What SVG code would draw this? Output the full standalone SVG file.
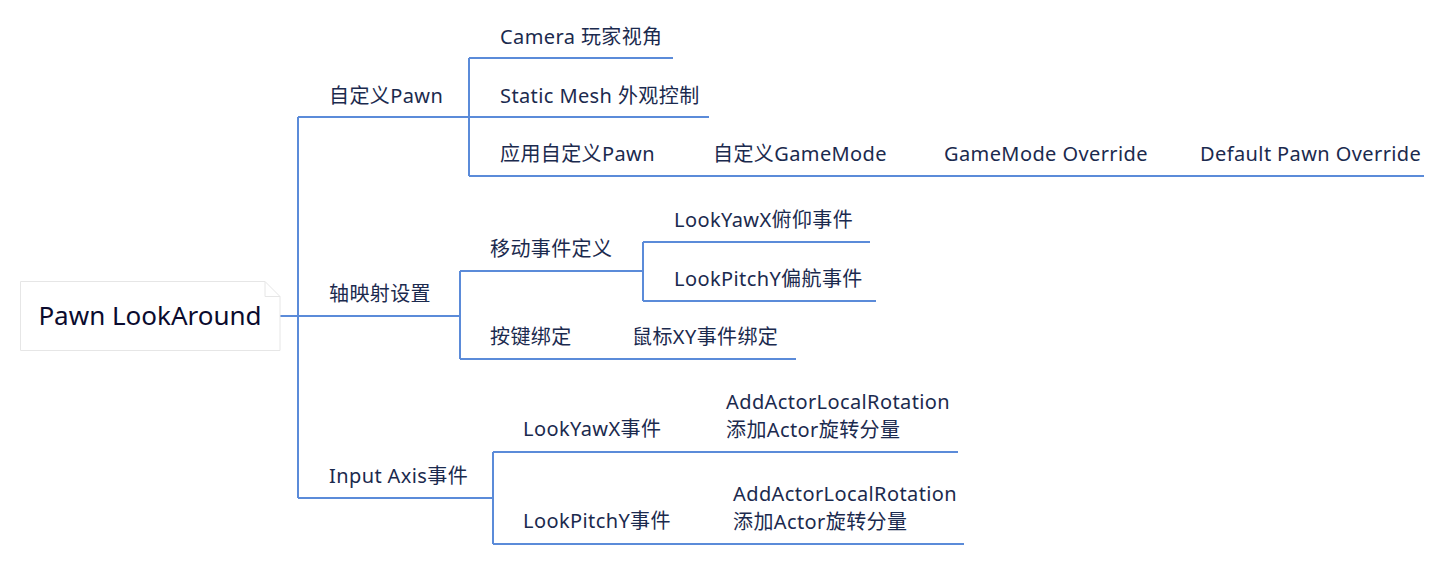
<svg xmlns="http://www.w3.org/2000/svg" width="1453" height="567" viewBox="0 0 1453 567">
<style>
.t{font-family:"Noto Sans","Noto Sans CJK SC",sans-serif;font-size:20px;letter-spacing:0.4px;fill:#1b2a4e}
.r{font-family:"Noto Sans","Noto Sans CJK SC",sans-serif;font-size:26px;fill:#0b0b2e}
.c{fill:none;stroke:#5b8bd9;stroke-width:2}
</style>
<rect width="1453" height="567" fill="#fff"/>
<g id="connectors">
<path class="c" d="M280 316H460M298 117V498M298 117H469M298 498H493M469 58V176M469 58H673M469 117H709M469 176H1424M460 271V359M460 271H643M460 359H796M643 242V301M643 242H870M643 301H876M493 452V544M493 452H958M493 544H964"/>
</g>
<g id="root">
<path d="M20.5 281.5H265l15 15V350.5H20.5Z" fill="#fff" stroke="#e6e6e6"/>
<path d="M265 281.5V296.5H280" fill="none" stroke="#e6e6e6"/>
<text class="r" x="150" y="325" text-anchor="middle">Pawn LookAround</text>
</g>
<g id="n1"><text class="t" x="329" y="103">自定义Pawn</text></g>
<g id="n2"><text class="t" x="329" y="301">轴映射设置</text></g>
<g id="n3"><text class="t" x="329" y="483">Input Axis事件</text></g>
<g id="n11"><text class="t" x="500" y="44">Camera 玩家视角</text></g>
<g id="n12"><text class="t" x="500" y="103">Static Mesh 外观控制</text></g>
<g id="n13"><text class="t" x="500" y="161">应用自定义Pawn</text></g>
<g id="n131"><text class="t" x="713" y="161">自定义GameMode</text></g>
<g id="n132"><text class="t" x="944" y="161">GameMode Override</text></g>
<g id="n133"><text class="t" x="1200" y="161">Default Pawn Override</text></g>
<g id="n21"><text class="t" x="490" y="256">移动事件定义</text></g>
<g id="n211"><text class="t" x="674" y="227">LookYawX俯仰事件</text></g>
<g id="n212"><text class="t" x="674" y="286">LookPitchY偏航事件</text></g>
<g id="n22"><text class="t" x="490" y="344">按键绑定</text></g>
<g id="n221"><text class="t" x="632" y="344">鼠标XY事件绑定</text></g>
<g id="n31"><text class="t" x="523" y="436">LookYawX事件</text></g>
<g id="n311"><text class="t" x="726" y="409">AddActorLocalRotation</text><text class="t" x="726" y="437">添加Actor旋转分量</text></g>
<g id="n32"><text class="t" x="523" y="528">LookPitchY事件</text></g>
<g id="n321"><text class="t" x="733" y="501">AddActorLocalRotation</text><text class="t" x="733" y="529">添加Actor旋转分量</text></g>
</svg>
